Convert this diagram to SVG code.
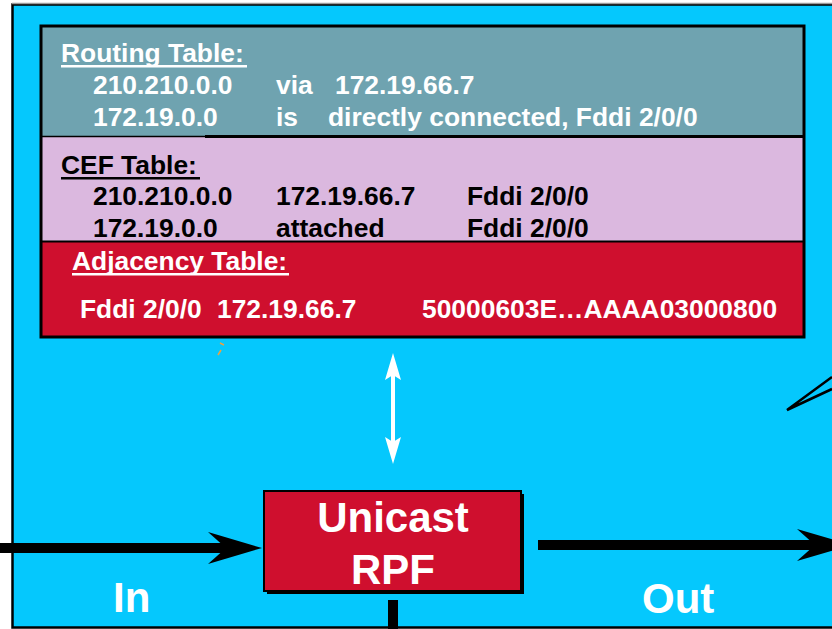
<svg xmlns="http://www.w3.org/2000/svg" width="832" height="629" viewBox="0 0 832 629">
<style>
text{font-family:"Liberation Sans",Arial,sans-serif;font-weight:bold}
.t{font-size:26.4px}
.w{fill:#ffffff}
.k{fill:#000000}
.big{font-size:42px;fill:#ffffff}
</style>
<rect x="0" y="0" width="832" height="629" fill="#ffffff"/>
<g id="frame">
<rect x="12.5" y="4.5" width="840" height="623" fill="#05c8fd" stroke="#000" stroke-width="2.5"/>
<line x1="12" y1="3.5" x2="832" y2="3.5" stroke="#9a9a9a" stroke-width="1.5"/>
</g>
<g id="routing-table">
<rect x="41" y="26" width="763" height="110" fill="#6fa3b0"/>
<text class="t w" x="61" y="62">Routing Table:</text>
<rect x="61" y="65" width="186" height="2.5" fill="#fff"/>
<text class="t w" x="93" y="94">210.210.0.0</text>
<text class="t w" x="276" y="94">via</text>
<text class="t w" x="335" y="94">172.19.66.7</text>
<text class="t w" x="93" y="126">172.19.0.0</text>
<text class="t w" x="276" y="126">is</text>
<text class="t w" x="328" y="126">directly connected, Fddi 2/0/0</text>
</g>
<g id="cef-table">
<rect x="41" y="137" width="763" height="104" fill="#dbb8df"/>
<text class="t k" x="61" y="174">CEF Table:</text>
<rect x="61" y="177" width="139" height="2.5" fill="#000"/>
<text class="t k" x="93" y="205">210.210.0.0</text>
<text class="t k" x="276" y="205">172.19.66.7</text>
<text class="t k" x="467" y="205">Fddi 2/0/0</text>
<text class="t k" x="93" y="237">172.19.0.0</text>
<text class="t k" x="276" y="237">attached</text>
<text class="t k" x="467" y="237">Fddi 2/0/0</text>
</g>
<g id="adjacency-table">
<rect x="41" y="242" width="763" height="95" fill="#cf0f2e"/>
<text class="t w" x="72" y="270">Adjacency Table:</text>
<rect x="72" y="273" width="217" height="2.5" fill="#fff"/>
<text class="t w" x="80" y="318">Fddi 2/0/0</text>
<text class="t w" x="217" y="318">172.19.66.7</text>
<text class="t w" x="422" y="318">50000603E…AAAA03000800</text>
</g>
<g id="table-borders" fill="none" stroke="#000">
<rect x="41" y="26" width="763" height="311" stroke-width="3"/>
<line x1="205" y1="136.5" x2="804" y2="136.5" stroke-width="3"/>
<line x1="41" y1="136.5" x2="205" y2="136.5" stroke-width="1.5"/>
<line x1="41" y1="241.5" x2="804" y2="241.5" stroke-width="2"/>
</g>
<g id="unicast-rpf">
<rect x="267" y="494" width="257" height="100" fill="#000"/>
<rect x="264" y="491" width="257" height="100" fill="#cf0f2e" stroke="#000" stroke-width="2"/>
<text class="big" x="393" y="532" text-anchor="middle">Unicast</text>
<text class="big" x="393" y="584" text-anchor="middle">RPF</text>
</g>
<g id="labels">
<text class="big" x="113" y="612">In</text>
<text class="big" x="642" y="613">Out</text>
</g>
<g id="connectors">
<rect x="0" y="543" width="230" height="10" fill="#000"/>
<path d="M208,532 L262,548 L208,564 L226,548 Z" fill="#000"/>
<rect x="538" y="540" width="280" height="10" fill="#000"/>
<path d="M797,529 L852,545 L797,561 L815,545 Z" fill="#000"/>
<rect x="388" y="600" width="10" height="29" fill="#000"/>
<rect x="391" y="372" width="4" height="72" fill="#fff"/>
<path d="M393,353 L401,380 L393,375 L385,380 Z" fill="#fff"/>
<path d="M393,464 L401,437 L393,442 L385,437 Z" fill="#fff"/>
<polyline points="832,377 787,410 832,389" fill="none" stroke="#000" stroke-width="2.5"/>
<line x1="220" y1="343" x2="224" y2="345" stroke="#f0a040" stroke-width="1.5"/>
<line x1="221" y1="350" x2="218" y2="355" stroke="#f0a040" stroke-width="1.5"/>
</g>
</svg>
